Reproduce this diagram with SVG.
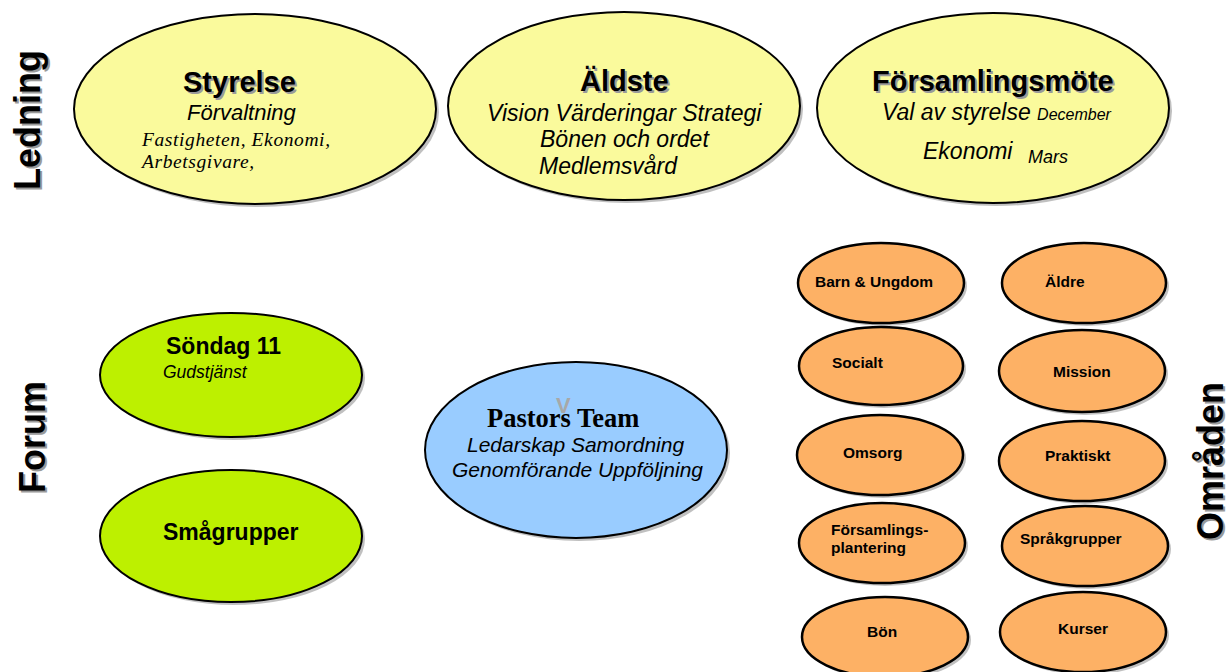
<svg xmlns="http://www.w3.org/2000/svg" width="1231" height="672" viewBox="0 0 1231 672">
<style>
.bg{fill:#ffffff}
.sh{fill:#8c8c8c;opacity:0.55}
.ell{stroke:#000;stroke-width:2}
.yel{fill:#FAFA9C}
.grn{fill:#BDF000}
.blu{fill:#99CCFF}
.org{fill:#FDB165;stroke-width:2.5}
.t{font-family:"Liberation Sans",Arial,sans-serif;fill:#000}
.b{font-weight:bold}
.i{font-style:italic}
.tshadow{fill:#9a9a9a}
.serif{font-family:"Liberation Serif","Times New Roman",serif}
.side{font-size:36px;font-weight:bold;text-anchor:middle}
.title{font-size:29px;font-weight:bold}
.sub{font-size:23px;font-style:italic}
.ol{font-size:15.5px;font-weight:bold}
</style>
<rect class="bg" x="0" y="0" width="1231" height="672"/>
<g id="connectors"/>

<g id="label-ledning">
<text class="t side tshadow" transform="translate(42,122) rotate(-90)">Ledning</text>
<text class="t side" transform="translate(40,120) rotate(-90)">Ledning</text>
</g>
<g id="label-forum">
<text class="t side tshadow" transform="translate(47,439) rotate(-90)">Forum</text>
<text class="t side" transform="translate(45,437) rotate(-90)">Forum</text>
</g>
<g id="label-omraden">
<text class="t side tshadow" transform="translate(1225,463) rotate(-90)">Områden</text>
<text class="t side" transform="translate(1223,461) rotate(-90)">Områden</text>
</g>

<g id="styrelse">
<ellipse class="sh" cx="258" cy="112" rx="181" ry="95"/>
<ellipse class="ell yel" cx="255" cy="109" rx="181" ry="95"/>
<text class="t title tshadow" x="185" y="94">Styrelse</text>
<text class="t title" x="183" y="92">Styrelse</text>
<text class="t sub" x="187" y="120" style="font-size:22px">Förvaltning</text>
<text class="t serif i" x="142" y="146" style="font-size:19.5px;letter-spacing:0.6px">Fastigheten, Ekonomi,</text>
<text class="t serif i" x="142" y="168" style="font-size:19.5px;letter-spacing:0.6px">Arbetsgivare,</text>
</g>

<g id="aldste">
<ellipse class="sh" cx="627" cy="109" rx="176" ry="94"/>
<ellipse class="ell yel" cx="624" cy="106" rx="176" ry="94"/>
<text class="t title tshadow" x="582" y="93">Äldste</text>
<text class="t title" x="580" y="91">Äldste</text>
<text class="t sub" x="487" y="121">Vision Värderingar Strategi</text>
<text class="t sub" x="540" y="147">Bönen och ordet</text>
<text class="t sub" x="539" y="174">Medlemsvård</text>
</g>

<g id="forsamlingsmote">
<ellipse class="sh" cx="996" cy="111" rx="176" ry="95"/>
<ellipse class="ell yel" cx="993" cy="108" rx="176" ry="95"/>
<text class="t title tshadow" x="874" y="93">Församlingsmöte</text>
<text class="t title" x="872" y="91">Församlingsmöte</text>
<text class="t sub" x="882" y="120">Val av styrelse <tspan style="font-size:16px">December</tspan></text>
<text class="t sub" x="923" y="159">Ekonomi <tspan style="font-size:18px" x="1028" y="163">Mars</tspan></text>
</g>

<g id="sondag">
<ellipse class="sh" cx="234" cy="378" rx="131" ry="62"/>
<ellipse class="ell grn" cx="231" cy="375" rx="131" ry="62"/>
<text class="t b" x="166" y="354" style="font-size:23px">Söndag 11</text>
<text class="t i" x="163" y="378" style="font-size:17.5px">Gudstjänst</text>
</g>

<g id="smagrupper">
<ellipse class="sh" cx="234" cy="539" rx="131" ry="66"/>
<ellipse class="ell grn" cx="231" cy="536" rx="131" ry="66"/>
<text class="t b" x="163" y="540" style="font-size:23px">Smågrupper</text>
</g>

<g id="pastors-team">
<ellipse class="sh" cx="579" cy="453" rx="151" ry="88"/>
<ellipse class="ell blu" cx="576" cy="450" rx="151" ry="88"/>
<text class="t b" x="556" y="413" style="font-size:22px;fill:#a8a8a8">V</text>
<text class="t serif b" x="487" y="427" style="font-size:26.5px">Pastors Team</text>
<text class="t i" x="467" y="452" style="font-size:21px">Ledarskap Samordning</text>
<text class="t i" x="452" y="477" style="font-size:21px">Genomförande Uppföljning</text>
</g>

<g id="barn-ungdom">
<ellipse class="sh" cx="884" cy="286" rx="83" ry="40"/>
<ellipse class="ell org" cx="881" cy="283" rx="83" ry="40"/>
<text class="t ol" x="815" y="287">Barn &amp; Ungdom</text>
</g>
<g id="aldre">
<ellipse class="sh" cx="1087" cy="286" rx="82" ry="40"/>
<ellipse class="ell org" cx="1084" cy="283" rx="82" ry="40"/>
<text class="t ol" x="1045" y="287">Äldre</text>
</g>
<g id="socialt">
<ellipse class="sh" cx="884" cy="369" rx="82" ry="39"/>
<ellipse class="ell org" cx="881" cy="366" rx="82" ry="39"/>
<text class="t ol" x="832" y="368">Socialt</text>
</g>
<g id="mission">
<ellipse class="sh" cx="1085" cy="374" rx="83" ry="41"/>
<ellipse class="ell org" cx="1082" cy="371" rx="83" ry="41"/>
<text class="t ol" x="1053" y="377">Mission</text>
</g>
<g id="omsorg">
<ellipse class="sh" cx="883" cy="458" rx="83" ry="40"/>
<ellipse class="ell org" cx="880" cy="455" rx="83" ry="40"/>
<text class="t ol" x="843" y="458">Omsorg</text>
</g>
<g id="praktiskt">
<ellipse class="sh" cx="1085" cy="464" rx="83" ry="40"/>
<ellipse class="ell org" cx="1082" cy="461" rx="83" ry="40"/>
<text class="t ol" x="1045" y="461">Praktiskt</text>
</g>
<g id="forsamlingsplantering">
<ellipse class="sh" cx="885" cy="546" rx="83" ry="40"/>
<ellipse class="ell org" cx="882" cy="543" rx="83" ry="40"/>
<text class="t ol" x="831" y="535">Församlings-</text>
<text class="t ol" x="831" y="553">plantering</text>
</g>
<g id="sprakgrupper">
<ellipse class="sh" cx="1088" cy="549" rx="83" ry="40"/>
<ellipse class="ell org" cx="1085" cy="546" rx="83" ry="40"/>
<text class="t ol" x="1020" y="544">Språkgrupper</text>
</g>
<g id="bon">
<ellipse class="sh" cx="888" cy="640" rx="83" ry="40"/>
<ellipse class="ell org" cx="885" cy="637" rx="83" ry="40"/>
<text class="t ol" x="867" y="637">Bön</text>
</g>
<g id="kurser">
<ellipse class="sh" cx="1086" cy="635" rx="83" ry="40"/>
<ellipse class="ell org" cx="1083" cy="632" rx="83" ry="40"/>
<text class="t ol" x="1058" y="634">Kurser</text>
</g>
</svg>
